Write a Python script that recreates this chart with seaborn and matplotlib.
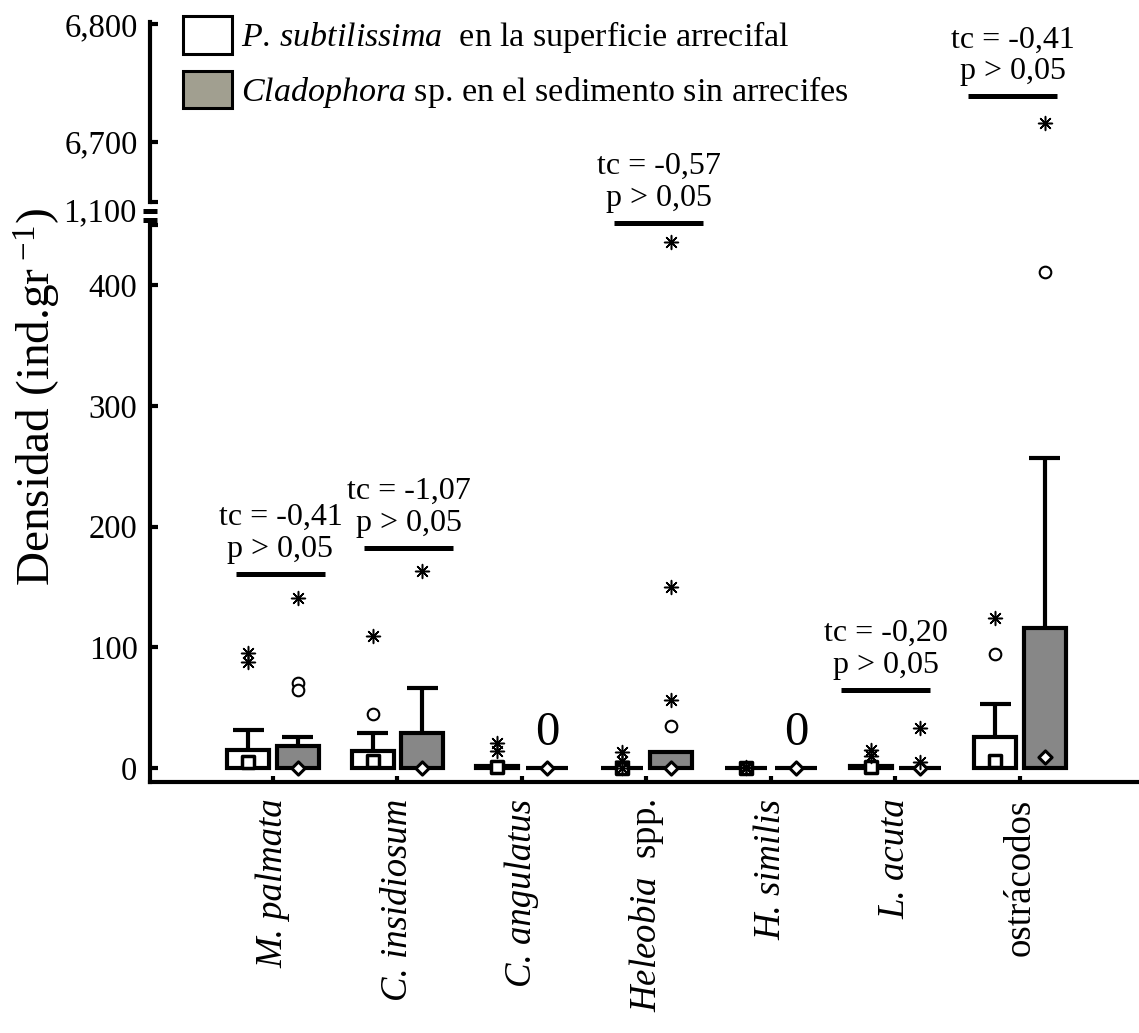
import matplotlib
matplotlib.use("Agg")
import matplotlib.pyplot as plt
import seaborn as sns
import pandas as pd
from matplotlib.lines import Line2D
from matplotlib.patches import Patch

# ---------------- data ----------------
categories = ["M. palmata", "C. insidiosum", "C. angulatus", "Heleobia spp.",
              "H. similis", "L. acuta", "ostrácodos"]
tick_labels = ["M. palmata", "C. insidiosum", "C. angulatus",
               r"$\mathit{Heleobia}$  spp.", "H. similis", "L. acuta", "ostrácodos"]
italic_ticks = [True, True, True, False, True, True, False]
groups = ["P. subtilissima", "Cladophora sp."]
legend_labels = [r"$\mathit{P.\,subtilissima}$  en la superficie arrecifal",
                 r"$\mathit{Cladophora}$ sp. en el sedimento sin arrecifes"]

box_top_white = [15, 14, 1.5, 0, 0, 2, 26]
box_top_gray = [18, 29, 0, 13.5, 0, 0, 116]
whisker_white = [31.5, 29, 1.5, 0, 0, 2, 53]
whisker_gray = [25.5, 66.5, 0, 13.5, 0, 0, 257]
median_white = [5, 6, 0.5, 0, 0, 1, 6]
median_gray = [0, 0, 0, 0, 0, 0, 9.5]
circles_white = [[], [45], [], [], [], [], [94]]
circles_gray = [[70, 65], [], [], [35], [], [], [411]]
extremes_white = [[95, 88], [109], [21, 14], [13, 6, 0], [0, 1], [15, 10], [124]]
extremes_gray = [[141], [163], [], [56, 150, 436], [], [33, 5], [6716]]

test_cats = ["M. palmata", "C. insidiosum", "Heleobia spp.", "L. acuta", "ostrácodos"]
test_tc = ["tc = -0,41", "tc = -1,07", "tc = -0,57", "tc = -0,20", "tc = -0,41"]
test_p = ["p > 0,05", "p > 0,05", "p > 0,05", "p > 0,05", "p > 0,05"]
test_line_y = [160.7, 182.2, 451.3, 64.6, 6738.8]
test_x_shift = [0.06, 0.09, 0.10, -0.08, -0.06]
zero_cats = ["C. angulatus", "H. similis"]

y_ticks_low = [0, 100, 200, 300, 400]
y_ticks_up = [6700, 6800]
break_label = "1,100"

# ---------------- style ----------------
sns.set_style("white")
plt.rcParams["font.family"] = ["Liberation Serif", "DejaVu Serif"]
plt.rcParams["mathtext.fontset"] = "custom"
plt.rcParams["mathtext.rm"] = "Liberation Serif"
plt.rcParams["mathtext.it"] = "Liberation Serif:italic"
for k in ["text.color", "axes.labelcolor", "xtick.color", "ytick.color", "axes.edgecolor"]:
    plt.rcParams[k] = "black"

W, H = 1139, 1033
def fy(y):
    return 1 - y / H

fig = plt.figure(figsize=(W / 100, H / 100), dpi=100)
ax = fig.add_axes([150 / W, fy(782), (W - 150) / W, (782 - 225) / H])
axu = fig.add_axes([150 / W, fy(202), (W - 150) / W, (202 - 21.7) / H])

LOW = (-11.6, 449.7)
UP = (6648.8, 6802)
XL = (-0.988, 6.956)
BOX_GRAY = "#878787"
offsets = [-0.2, 0.2]

box_df = pd.DataFrame({
    "cat": categories * 2,
    "grp": [groups[0]] * len(categories) + [groups[1]] * len(categories),
    "top": box_top_white + box_top_gray,
})
sns.barplot(data=box_df, x="cat", y="top", hue="grp", order=categories,
            hue_order=groups, palette=["white", BOX_GRAY], edgecolor="black",
            linewidth=3, width=0.8, gap=0.16, errorbar=None, legend=False,
            ax=ax, zorder=2)

# whiskers
for off, tops, wh in [(offsets[0], box_top_white, whisker_white),
                      (offsets[1], box_top_gray, whisker_gray)]:
    for i, (t, w) in enumerate(zip(tops, wh)):
        if w > t:
            x = i + off
            ax.vlines(x, t, w, colors="black", lw=3, zorder=1)
            ax.hlines(w, x - 0.125, x + 0.125, colors="black", lw=3, zorder=1)

# points tables
def pts(lists, off):
    rows = []
    for i, vals in enumerate(lists):
        for v in vals:
            rows.append({"x": i + off, "y": v})
    return pd.DataFrame(rows, columns=["x", "y"])

med_w = pd.DataFrame({"x": [i + offsets[0] for i in range(len(categories))], "y": median_white})
med_g = pd.DataFrame({"x": [i + offsets[1] for i in range(len(categories))], "y": median_gray})
circ = pd.concat([pts(circles_white, offsets[0]), pts(circles_gray, offsets[1])])
ext = pd.concat([pts(extremes_white, offsets[0]), pts(extremes_gray, offsets[1])])

for a in (ax, axu):
    sns.scatterplot(data=med_w, x="x", y="y", marker="s", s=85, facecolor="white",
                    edgecolor="black", linewidth=2.5, ax=a, zorder=4)
    sns.scatterplot(data=med_g, x="x", y="y", marker="D", s=45, facecolor="white",
                    edgecolor="black", linewidth=2.2, ax=a, zorder=4)
    sns.scatterplot(data=circ, x="x", y="y", marker="o", s=70, facecolor="white",
                    edgecolor="black", linewidth=1.5, ax=a, zorder=5)
    sns.scatterplot(data=ext, x="x", y="y", marker=(8, 2, 0), s=100, color="black",
                    linewidth=1.1, ax=a, zorder=5)
    a.set_xlabel("")
    a.set_ylabel("")
    a.set_xlim(*XL)

ax.set_ylim(*LOW)
axu.set_ylim(*UP)

# significance annotations
for cat, tc, p, ly, sh in zip(test_cats, test_tc, test_p, test_line_y, test_x_shift):
    a = axu if ly > 1000 else ax
    xc = categories.index(cat) + sh
    a.plot([xc - 0.357, xc + 0.357], [ly, ly], color="black", lw=3.6,
           solid_capstyle="butt", clip_on=False, zorder=6)
    a.annotate(p, (xc, ly), xytext=(0, 17.5), textcoords="offset points",
               ha="center", va="center", fontsize=23, annotation_clip=False)
    a.annotate(tc, (xc, ly), xytext=(0, 40.5), textcoords="offset points",
               ha="center", va="center", fontsize=23, annotation_clip=False)

for cat in zero_cats:
    xc = categories.index(cat) + offsets[1]
    ax.annotate("0", (xc, 0), xytext=(0, 25), textcoords="offset points",
                ha="center", va="center", fontsize=35)

# axes styling
for s in ["top", "right"]:
    ax.spines[s].set_visible(False)
for s in ["top", "right", "bottom"]:
    axu.spines[s].set_visible(False)
for s in ["left", "bottom"]:
    ax.spines[s].set_linewidth(3)
    ax.spines[s].set_color("black")
axu.spines["left"].set_linewidth(3)
axu.spines["left"].set_color("black")

ax.set_yticks(y_ticks_low + [LOW[1]])
ax.set_yticklabels([str(v) for v in y_ticks_low] + [""])
axu.set_yticks([UP[0]] + y_ticks_up)
axu.set_yticklabels([""] + [f"{v:,}" for v in y_ticks_up])
for a in (ax, axu):
    a.tick_params(axis="y", direction="in", length=6, width=3, labelsize=23.5,
                  pad=9, left=True, colors="black")
ax.set_xticks(range(len(categories)))
ax.set_xticklabels(tick_labels, rotation=90, ha="center", va="top")
for lbl, it in zip(ax.get_xticklabels(), italic_ticks):
    if it:
        lbl.set_fontstyle("italic")
ax.tick_params(axis="x", direction="in", length=4, width=3, labelsize=26.5,
               pad=12, bottom=True)
axu.set_xticks([])
axu.patch.set_alpha(0)
ax.patch.set_alpha(0)

# axis break
for yb in (210.5, 219.5):
    fig.add_artist(Line2D([143 / W, 157 / W], [fy(yb), fy(yb)], lw=3.6,
                          color="black", transform=fig.transFigure,
                          solid_capstyle="butt"))
fig.text(137 / W, fy(213), break_label, ha="right", va="center", fontsize=23.5)

fig.text(38 / W, fy(397), r"Densidad (ind.gr$^{\ \mathrm{-1}}$)", rotation=90,
         ha="center", va="center", fontsize=34)

handles = [Patch(facecolor="white", edgecolor="black", lw=2.2),
           Patch(facecolor="#a19f90", edgecolor="black", lw=2.2)]
fig.legend(handles, legend_labels, loc="upper left",
           bbox_to_anchor=(183 / W, fy(16)), frameon=False, fontsize=24.5,
           handlelength=1.45, handleheight=1.33, handletextpad=0.25,
           labelspacing=0.45, borderpad=0, borderaxespad=0)

fig.savefig("out.png", dpi=100)
